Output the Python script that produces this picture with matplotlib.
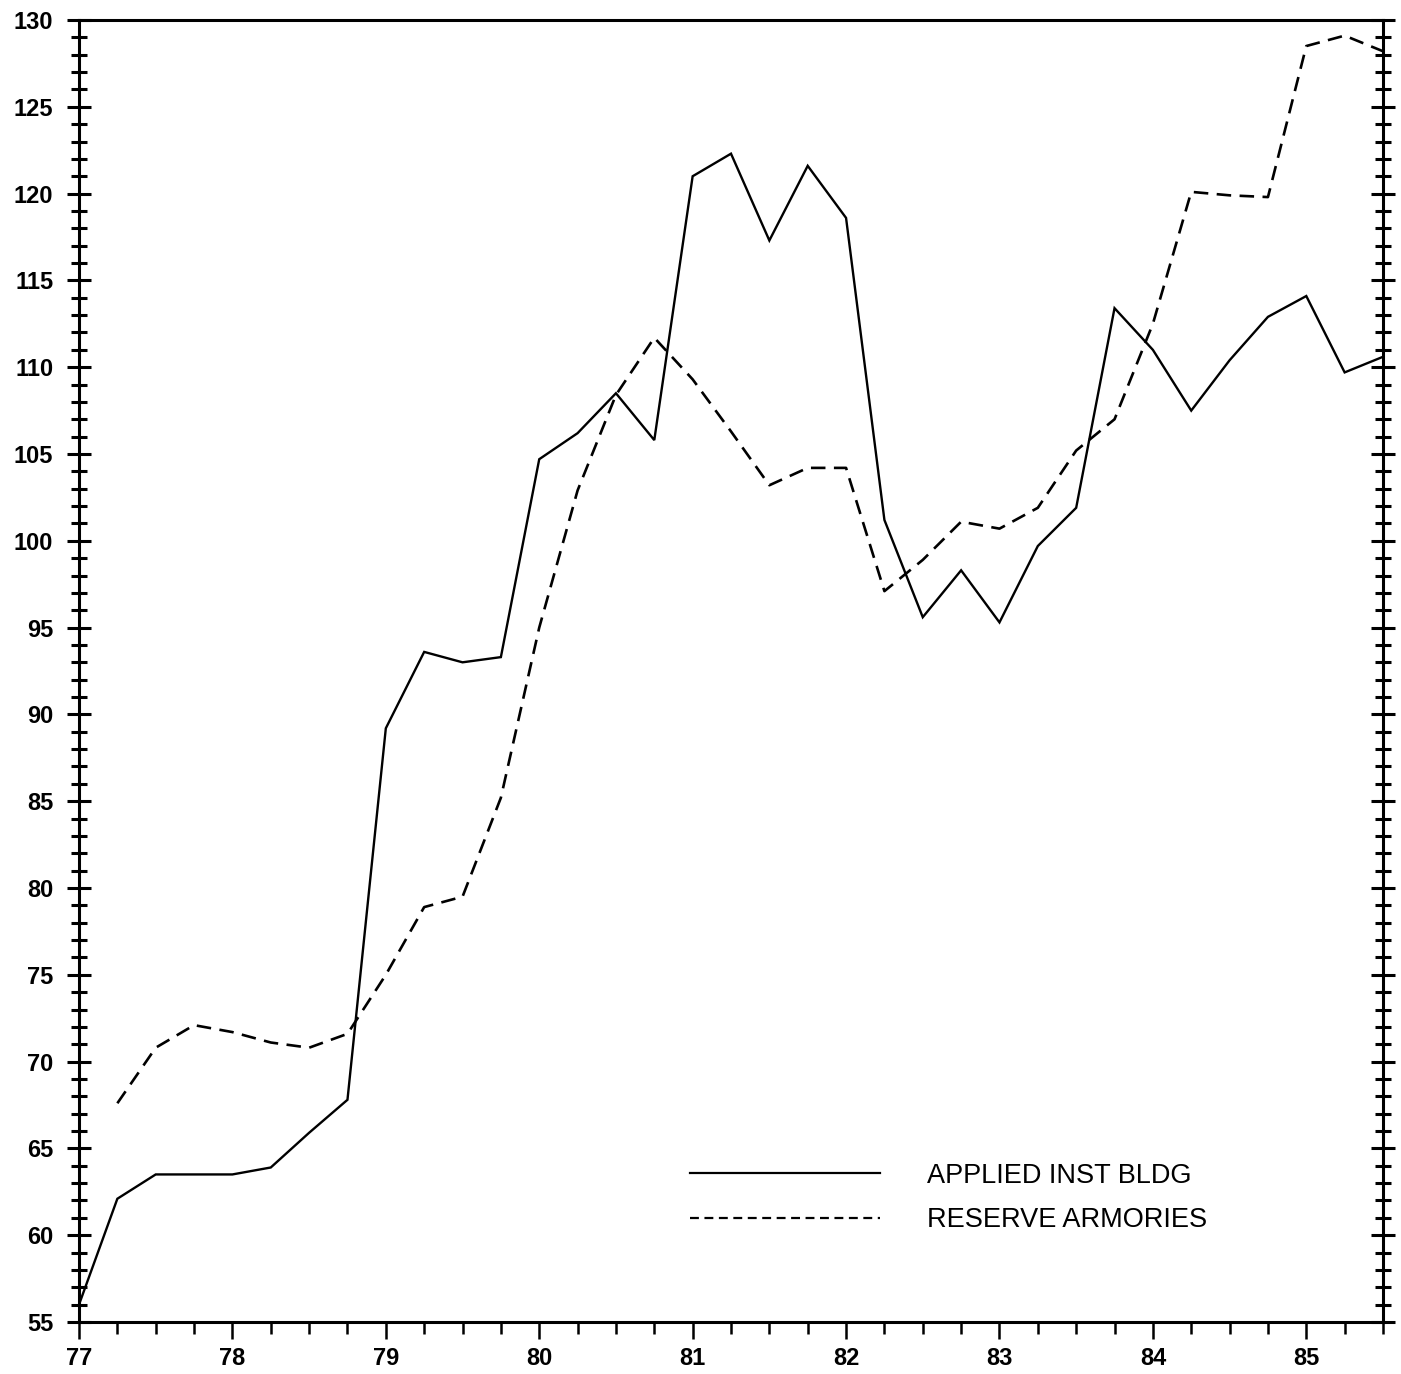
import numpy as np
import matplotlib
matplotlib.use("Agg")
import matplotlib.pyplot as plt
from matplotlib.ticker import MultipleLocator, FixedLocator
from matplotlib.lines import Line2D

plt.rcParams['font.family'] = ['Liberation Sans', 'DejaVu Sans']

# Quarterly time axis (fiscal years 77 .. 85.5)
quarters = [77.0, 77.25, 77.5, 77.75, 78.0, 78.25, 78.5, 78.75,
            79.0, 79.25, 79.5, 79.75, 80.0, 80.25, 80.5, 80.75,
            81.0, 81.25, 81.5, 81.75, 82.0, 82.25, 82.5, 82.75,
            83.0, 83.25, 83.5, 83.75, 84.0, 84.25, 84.5, 84.75,
            85.0, 85.25, 85.5]

applied_inst_bldg = [56.0, 62.1, 63.5, 63.5, 63.5, 63.9, 65.9, 67.8,
                     89.2, 93.6, 93.0, 93.3, 104.7, 106.2, 108.5, 105.8,
                     121.0, 122.3, 117.3, 121.6, 118.6, 101.2, 95.6, 98.3,
                     95.3, 99.7, 101.9, 113.4, 111.0, 107.5, 110.4, 112.9,
                     114.1, 109.7, 110.6]

reserve_armories = [np.nan, 67.6, 70.8, 72.1, 71.7, 71.1, 70.8, 71.6,
                    75.0, 78.9, 79.5, 85.2, 95.0, 102.9, 108.4, 111.7,
                    109.3, 106.3, 103.2, 104.2, 104.2, 97.1, 98.9, 101.1,
                    100.7, 101.9, 105.2, 107.0, 112.5, 120.1, 119.9, 119.8,
                    128.5, 129.1, 128.2]

series_labels = ["APPLIED INST BLDG", "RESERVE ARMORIES"]
x_tick_labels = ["77", "78", "79", "80", "81", "82", "83", "84", "85"]
x_tick_years = [77, 78, 79, 80, 81, 82, 83, 84, 85]

fig = plt.figure(figsize=(14.01, 13.74), dpi=100)
ax = fig.add_axes([79/1401, 52/1374, (1383-79)/1401, (1322-20)/1374])

ax.plot(quarters, applied_inst_bldg, color='black', lw=1.7, solid_joinstyle='miter')
ax.plot(quarters, reserve_armories, color='black', lw=1.9, linestyle=(0, (5.5, 3.2)))

ax.set_xlim(77, 85.5)
ax.set_ylim(55, 130)

for s in ax.spines.values():
    s.set_linewidth(2.2)

# y ticks: inout on both sides
ax.yaxis.set_major_locator(MultipleLocator(5))
ax.yaxis.set_minor_locator(MultipleLocator(1))
ax.tick_params(axis='y', which='major', direction='inout', length=17, width=2.2,
               left=True, right=True, labelsize=17, pad=10)
ax.tick_params(axis='y', which='minor', direction='inout', length=11, width=2.2,
               left=True, right=True)

# x ticks: out, quarterly
ax.xaxis.set_major_locator(FixedLocator(x_tick_years))
ax.set_xticklabels(x_tick_labels)
ax.xaxis.set_minor_locator(MultipleLocator(0.25))
ax.tick_params(axis='x', which='major', direction='out', length=12, width=1.8,
               labelsize=17, pad=6, top=False)
ax.tick_params(axis='x', which='minor', direction='out', length=8.5, width=1.8, top=False)

for lab in ax.get_xticklabels() + ax.get_yticklabels():
    lab.set_fontweight('bold')

handles = [Line2D([], [], color='black', lw=1.6),
           Line2D([], [], color='black', lw=1.6, linestyle=(0, (4, 2.5)))]
leg = ax.legend(handles, series_labels, loc='upper left',
                bbox_to_anchor=(0.4686, 0.1225), frameon=False,
                prop={'family': ['Liberation Sans'], 'size': 19.5},
                handlelength=7.0, handletextpad=1.75, labelspacing=0.7,
                borderpad=0, borderaxespad=0)

fig.savefig("out.png", dpi=100, facecolor='white')
